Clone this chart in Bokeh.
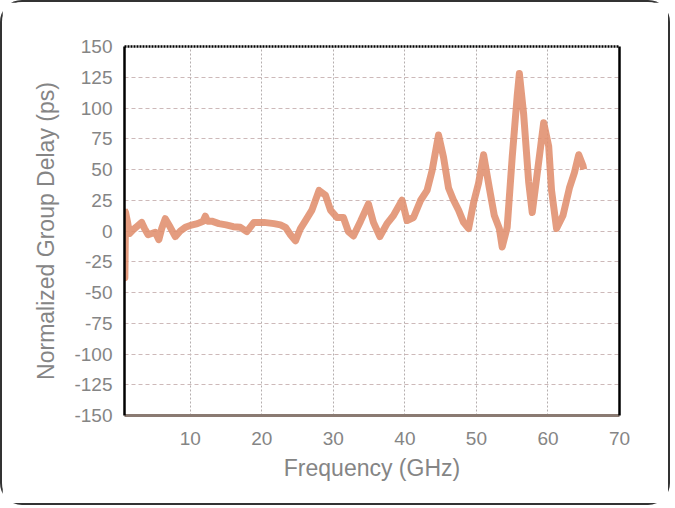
from bokeh.plotting import figure
from bokeh.models import Range1d, LinearAxis, FixedTicker
from bokeh.embed import file_html
from bokeh.resources import INLINE

# Frequency (GHz) and normalized group delay (ps)
freq = [0.8, 0.85, 0.95, 1.2, 1.5, 2.0, 2.6, 3.2, 3.6, 4.1, 4.6, 5.1, 5.6, 6.0, 6.5,
        7.2, 7.9, 8.6, 9.3, 10.0, 11.0, 11.8, 12.1, 12.4, 13.0, 14.0, 15.0, 16.0,
        17.0, 17.9, 18.9, 20.3, 21.7, 22.6, 23.3, 24.0, 24.7, 25.4, 26.1, 27.0,
        28.0, 28.9, 29.6, 30.5, 31.4, 32.1, 32.8, 33.8, 34.9, 35.6, 36.5, 37.5,
        38.4, 39.6, 40.3, 41.2, 42.2, 43.1, 43.8, 44.7, 45.4, 46.1, 46.8, 47.5,
        48.2, 48.9, 49.6, 50.3, 51.0, 51.8, 52.5, 53.2, 53.6, 54.3, 55.0, 55.7,
        56.0, 56.6, 57.3, 57.8, 58.5, 59.4, 60.1, 60.5, 61.2, 62.1, 63.0, 63.7,
        64.3, 64.9, 65.0]
delay = [18, -38, 15, 8, -2, 1, 4, 7, 2, -3, -2, -1, -7, 2, 10,
         3, -4.5, 0, 3, 4.5, 6, 8, 12, 8, 8, 6, 5, 3.5,
         3, -0.5, 7, 7, 6, 5, 3, -3, -8, 2, 8.5, 17,
         33, 29, 17, 11, 11, -0.5, -4, 8, 22, 7, -4.5, 6,
         12.6, 25, 8.5, 11, 25, 33, 49, 78, 60, 35, 25, 17,
         7, 2, 23, 39, 62, 35, 12.6, 2, -13, 3, 60, 110,
         128, 95, 40, 15, 47, 88, 69, 33, 2, 12.6, 35, 47.5,
         62, 53, 50]

x_ticks = [10, 20, 30, 40, 50, 60, 70]
y_ticks = [-150, -125, -100, -75, -50, -25, 0, 25, 50, 75, 100, 125, 150]
y_tick_labels = {t: str(t) for t in y_ticks}

FONT = "Liberation Sans"
GREY = "#858585"

p = figure(width=670, height=505, output_backend="svg", toolbar_location=None,
           x_range=Range1d(0.8, 70), y_range=Range1d(-150, 150),
           min_border_left=122, min_border_right=53,
           min_border_top=44, min_border_bottom=92,
           background_fill_color="white", border_fill_color="white")
p.outline_line_color = None
p.styles = {"border": "2px solid #333333", "border-radius": "22px"}

# grid
p.xgrid.ticker = FixedTicker(ticks=x_ticks)
p.ygrid.ticker = FixedTicker(ticks=y_ticks)
p.xgrid.grid_line_color = "#b5aeae"
p.xgrid.grid_line_dash = "2 2"
p.ygrid.grid_line_color = "#cdb9b9"
p.ygrid.grid_line_dash = "4 3"

# axes
for ax in (p.xaxis[0], p.yaxis[0]):
    ax.major_tick_in = 0
    ax.major_tick_out = 0
    ax.minor_tick_in = 0
    ax.minor_tick_out = 0
    ax.major_label_text_font = FONT
    ax.major_label_text_font_size = "19px"
    ax.major_label_text_color = GREY
    ax.axis_label_text_font = FONT
    ax.axis_label_text_font_size = "23px"
    ax.axis_label_text_color = GREY
    ax.axis_label_text_font_style = "normal"

p.xaxis[0].ticker = FixedTicker(ticks=x_ticks)
p.yaxis[0].ticker = FixedTicker(ticks=y_ticks)
p.yaxis[0].major_label_overrides = y_tick_labels
p.xaxis[0].axis_label = "Frequency (GHz)"
p.yaxis[0].axis_label = "Normalized Group Delay (ps)"
p.xaxis[0].axis_line_color = "#8a7a72"
p.xaxis[0].axis_line_width = 3
p.yaxis[0].axis_line_color = "black"
p.yaxis[0].axis_line_width = 2.5
p.xaxis[0].major_label_standoff = 16
p.xaxis[0].axis_label_standoff = 7
p.yaxis[0].major_label_standoff = 12
p.yaxis[0].axis_label_standoff = 12

top = LinearAxis(ticker=FixedTicker(ticks=[]), major_label_text_font_size="0px",
                 major_tick_in=0, major_tick_out=0, minor_tick_in=0, minor_tick_out=0,
                 axis_line_color="black", axis_line_width=2.5, axis_line_dash="2 1")
right = LinearAxis(ticker=FixedTicker(ticks=[]), major_label_text_font_size="0px",
                   major_tick_in=0, major_tick_out=0, minor_tick_in=0, minor_tick_out=0,
                   axis_line_color="black", axis_line_width=2.5)
p.add_layout(top, "above")
p.add_layout(right, "right")

p.line(freq, delay, line_color="#e08e6d", line_width=7, line_alpha=0.88,
       line_join="round")

open("out.html", "w").write(file_html(p, INLINE))
